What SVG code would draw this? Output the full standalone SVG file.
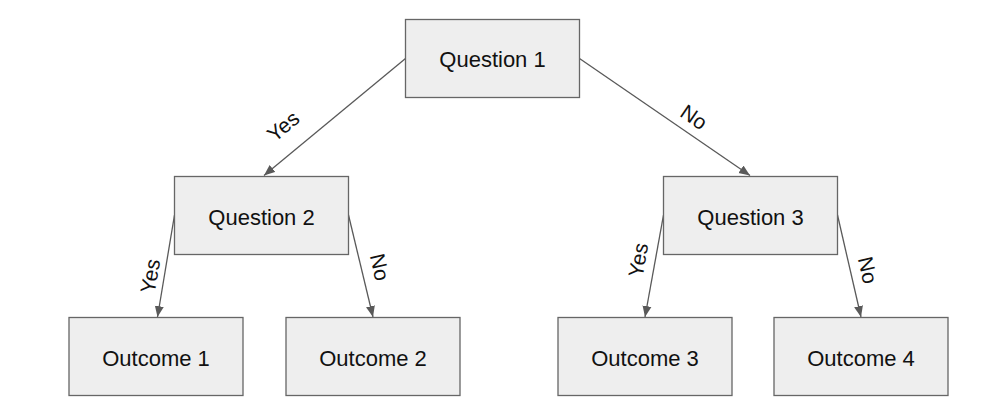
<svg xmlns="http://www.w3.org/2000/svg" width="995" height="419" viewBox="0 0 995 419">
<style>
.box{fill:#eeeeee;stroke:#666666;stroke-width:1.3}
.lbl{font-family:"Liberation Sans",Arial,sans-serif;font-size:22px;fill:#111111;text-anchor:middle}
.edge{stroke:#595959;stroke-width:1.3;fill:none;marker-end:url(#arr)}
.el{font-family:"Liberation Sans",Arial,sans-serif;font-size:21px;fill:#111111;text-anchor:middle;dominant-baseline:central}
</style>
<defs>
<marker id="arr" markerUnits="userSpaceOnUse" markerWidth="12" markerHeight="10" refX="11" refY="5" orient="auto">
<path d="M0,0.5 L11,5 L0,9.5 z" fill="#595959"/>
</marker>
</defs>
<rect width="995" height="419" fill="#ffffff"/>
<g id="connectors">
<line class="edge" x1="405.5" y1="58.5" x2="264" y2="175.5"/>
<line class="edge" x1="579.5" y1="58.5" x2="750" y2="175.5"/>
<line class="edge" x1="174.5" y1="215" x2="157.5" y2="317"/>
<line class="edge" x1="348.5" y1="215" x2="373" y2="317"/>
<line class="edge" x1="663.5" y1="215" x2="645" y2="317"/>
<line class="edge" x1="837.5" y1="215" x2="861" y2="317"/>
<text class="el" transform="translate(283,126) rotate(-40)">Yes</text>
<text class="el" transform="translate(694,117) rotate(34.5)">No</text>
<text class="el" transform="translate(150,276) rotate(-80)">Yes</text>
<text class="el" transform="translate(380,267) rotate(77)">No</text>
<text class="el" transform="translate(638,260) rotate(-80)">Yes</text>
<text class="el" transform="translate(868,270) rotate(77)">No</text>
</g>
<g id="q1"><rect class="box" x="405.5" y="19.5" width="174" height="78"/><text class="lbl" x="492.5" y="67">Question 1</text></g>
<g id="q2"><rect class="box" x="174.5" y="176.5" width="174" height="78"/><text class="lbl" x="261.5" y="224.5">Question 2</text></g>
<g id="q3"><rect class="box" x="663.5" y="176.5" width="174" height="78"/><text class="lbl" x="750.5" y="224.5">Question 3</text></g>
<g id="o1"><rect class="box" x="69" y="317.5" width="174" height="78"/><text class="lbl" x="156" y="365.5">Outcome 1</text></g>
<g id="o2"><rect class="box" x="286" y="317.5" width="174" height="78"/><text class="lbl" x="373" y="365.5">Outcome 2</text></g>
<g id="o3"><rect class="box" x="558" y="317.5" width="174" height="78"/><text class="lbl" x="645" y="365.5">Outcome 3</text></g>
<g id="o4"><rect class="box" x="774" y="317.5" width="174" height="78"/><text class="lbl" x="861" y="365.5">Outcome 4</text></g>
</svg>
